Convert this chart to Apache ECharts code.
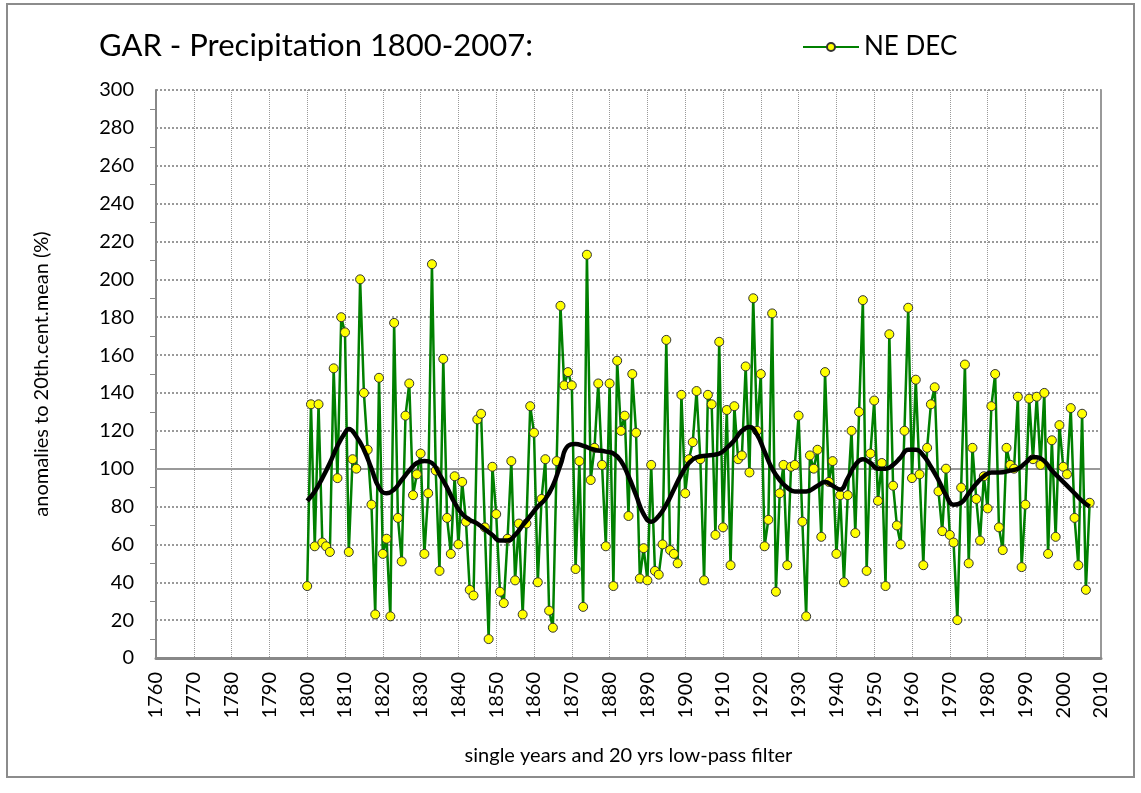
<!DOCTYPE html>
<html>
<head>
<meta charset="utf-8">
<script src="https://cdn.jsdelivr.net/npm/echarts@6/dist/echarts.min.js"></script>
<style>
  html, body { margin: 0; padding: 0; background: #fff; }
  #chart { width: 1141px; height: 793px; }
</style>
</head>
<body>
<div id="chart"></div>
<script>
// single years, one value per year from 1800
const firstYear = 1800
const decValues = [
  38, 134, 59, 134, 61, 59, 56, 153, 95, 180,
  172, 56, 105, 100, 200, 140, 110, 81, 23, 148,
  55, 63, 22, 177, 74, 51, 128, 145, 86, 97,
  108, 55, 87, 208, 99, 46, 158, 74, 55, 96,
  60, 93, 72, 36, 33, 126, 129, 69, 10, 101,
  76, 35, 29, 63, 104, 41, 71, 23, 71, 133,
  119, 40, 84, 105, 25, 16, 104, 186, 144, 151,
  144, 47, 104, 27, 213, 94, 111, 145, 102, 59,
  145, 38, 157, 120, 128, 75, 150, 119, 42, 58,
  41, 102, 46, 44, 60, 168, 57, 55, 50, 139,
  87, 105, 114, 141, 105, 41, 139, 134, 65, 167,
  69, 131, 49, 133, 105, 107, 154, 98, 190, 120,
  150, 59, 73, 182, 35, 87, 102, 49, 101, 102,
  128, 72, 22, 107, 100, 110, 64, 151, 93, 104,
  55, 86, 40, 86, 120, 66, 130, 189, 46, 108,
  136, 83, 103, 38, 171, 91, 70, 60, 120, 185,
  95, 147, 97, 49, 111, 134, 143, 88, 67, 100,
  65, 61, 20, 90, 155, 50, 111, 84, 62, 96,
  79, 133, 150, 69, 57, 111, 102, 100, 138, 48,
  81, 137, 105, 138, 102, 140, 55, 115, 64, 123,
  101, 97, 132, 74, 49, 129, 36, 82
]

// 20 yrs low-pass filter
const filterYears = [
  1800, 1802, 1804, 1806, 1808, 1810, 1811, 1813, 1815, 1817, 1819, 1821, 1823, 1825,
  1827, 1829, 1831, 1833, 1835, 1837, 1839, 1841, 1843, 1845, 1847, 1849, 1851, 1853,
  1855, 1857, 1859, 1861, 1863, 1865, 1867, 1869, 1871, 1873, 1876, 1879, 1881, 1883,
  1885, 1887, 1889, 1891, 1893, 1895, 1897, 1899, 1901, 1903, 1906, 1909, 1911, 1913,
  1915, 1917, 1919, 1921, 1923, 1925, 1927, 1929, 1932, 1935, 1937, 1939, 1941, 1943,
  1945, 1947, 1949, 1951, 1953, 1955, 1957, 1959, 1961, 1963, 1965, 1967, 1969, 1971,
  1973, 1975, 1977, 1979, 1981, 1983, 1986, 1988, 1990, 1992, 1993, 1995, 1997, 1999,
  2001, 2003, 2005, 2007
]
const filterValues = [
  83, 88, 95, 103, 112, 119, 121, 117, 110, 100, 90, 87, 89, 94,
  99, 103, 104, 103, 97, 90, 82, 76, 73, 71, 68, 65, 62, 62,
  65, 70, 75, 80, 84, 91, 102, 112, 113, 112, 110, 109, 108, 104,
  96, 86, 76, 72, 75, 81, 89, 97, 103, 106, 107, 108, 111, 115,
  120, 122, 118, 109, 100, 94, 90, 88, 88, 91, 93, 91, 89, 95,
  102, 105, 103, 100, 100, 102, 106, 110, 110, 107, 101, 94, 86, 81,
  82, 87, 92, 96, 98, 98, 99, 100, 103, 106, 106, 104, 99, 95,
  91, 87, 83, 80
]

const xMin = 1760
const xMax = 2010
const yMin = 0
const yMax = 300
const refLevel = 100

const font = 'Lato, "Open Sans", sans-serif'

const chart = echarts.init(document.getElementById('chart'))

const option = {
  backgroundColor: '#fff',
  animation: false,
  textStyle: { fontFamily: font, color: '#000' },
  title: {
    text: 'GAR - Precipitation 1800-2007:',
    left: 94,
    top: 25,
    textStyle: { fontSize: 31, fontWeight: 'normal', color: '#000', fontFamily: font },
  },
  legend: {
    data: ['NE DEC'],
    left: 797,
    top: 29,
    itemWidth: 56,
    itemHeight: 10,
    itemGap: 6,
    textStyle: { fontSize: 26, color: '#000', fontFamily: font },
  },
  graphic: [
    {
      type: 'rect',
      shape: { x: 7, y: 4, width: 1127, height: 773 },
      style: { fill: 'none', stroke: '#8c8c8c', lineWidth: 2 },
      silent: true,
    },
  ],
  grid: { left: 156, right: 40, top: 90, bottom: 135 },
  xAxis: {
    type: 'value',
    min: xMin,
    max: xMax,
    interval: 10,
    name: 'single years and 20 yrs low-pass filter',
    nameLocation: 'middle',
    nameGap: 88,
    nameTextStyle: { fontSize: 20, color: '#000', fontFamily: font },
    axisLine: { lineStyle: { color: '#888', width: 3 } },
    axisTick: { show: false },
    axisLabel: {
      rotate: 90,
      fontSize: 20,
      color: '#000',
      margin: 14,
      formatter: (v) => String(v),
    },
    splitLine: { show: true, lineStyle: { color: '#999', type: 'dotted', width: 1 } },
  },
  yAxis: [
    {
      type: 'value',
      min: yMin,
      max: yMax,
      interval: 20,
      name: 'anomalies to 20th.cent.mean (%)',
      nameLocation: 'middle',
      nameGap: 104,
      nameTextStyle: { fontSize: 20, color: '#000', fontFamily: font },
      axisLine: { show: true, lineStyle: { color: '#888', width: 2 } },
      axisTick: { show: false },
      minorTick: { show: true, splitNumber: 2, length: 6, lineStyle: { color: '#888', width: 1 } },
      axisLabel: { fontSize: 20, color: '#000', margin: 22 },
      splitLine: { show: true, lineStyle: { color: '#999', type: 'dotted', width: 2 } },
    },
    {
      type: 'value',
      min: yMin,
      max: yMax,
      position: 'right',
      axisLine: { show: true, lineStyle: { color: '#999', width: 2 } },
      axisTick: { show: false },
      axisLabel: { show: false },
      splitLine: { show: false },
    },
  ],
  series: [
    {
      name: 'NE DEC',
      type: 'line',
      data: decValues.map((v, i) => [firstYear + i, v]),
      lineStyle: { color: '#008000', width: 2.5 },
      itemStyle: { color: '#ffff00', borderColor: '#333', borderWidth: 1 },
      symbol: 'circle',
      symbolSize: 9,
      showSymbol: true,
      z: 3,
      markLine: {
        silent: true,
        symbol: 'none',
        label: { show: false },
        lineStyle: { color: '#999', type: 'solid', width: 2 },
        data: [{ yAxis: refLevel }],
        z: 1,
      },
    },
    {
      name: 'filter',
      type: 'line',
      data: filterYears.map((y, i) => [y, filterValues[i]]),
      smooth: true,
      showSymbol: false,
      lineStyle: { color: '#000', width: 4.5 },
      z: 4,
    },
  ],
}

chart.setOption(option)
</script>
</body>
</html>
